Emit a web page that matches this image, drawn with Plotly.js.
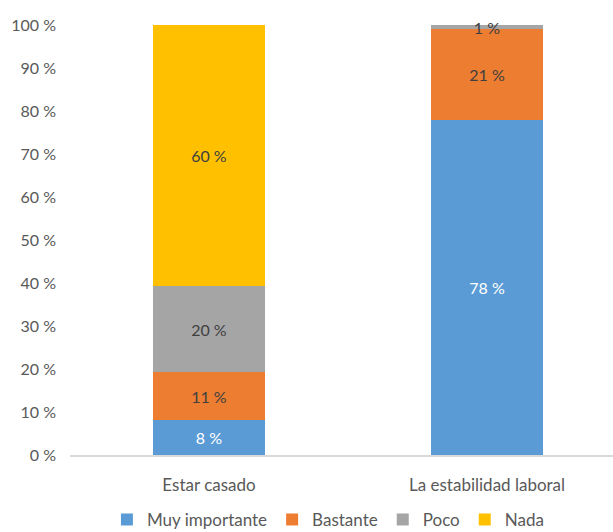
<!DOCTYPE html>
<html>
<head>
<meta charset="utf-8">
<script src="https://cdn.plot.ly/plotly-3.0.1.min.js"></script>
<style>html,body{margin:0;padding:0;background:#fff;}#chart{width:613px;height:532px;}</style>
</head>
<body>
<div id="chart"></div>
<script>
const categories = ['Estar casado', 'La estabilidad laboral'];
const seriesNames = ['Muy importante', 'Bastante', 'Poco', 'Nada'];
const muyImportante = [8, 78];
const bastante = [11, 21];
const poco = [20, 1];
const nada = [60, 0];
const yTicks = [0, 10, 20, 30, 40, 50, 60, 70, 80, 90, 100];

const colors = ['#5B9BD5', '#ED7D31', '#A5A5A5', '#FFC000'];
const textColors = ['#FFFFFF', '#404040', '#404040', '#404040'];
const allSeries = [muyImportante, bastante, poco, nada];
const fontFam = 'Lato, "Open Sans", sans-serif';

const traces = allSeries.map((vals, i) => ({
  type: 'bar',
  name: seriesNames[i],
  x: categories,
  y: vals,
  marker: {color: colors[i], line: {width: 0}},
  text: vals.map(v => v > 0 ? v + ' %' : ''),
  textposition: 'inside',
  insidetextanchor: 'middle',
  textangle: 0,
  cliponaxis: false,
  textfont: {family: fontFam, size: 16, color: textColors[i]},
  hoverinfo: 'skip',
  width: 0.403
}));

const layout = {
  width: 613, height: 532,
  margin: {l: 70, r: 0, t: 25, b: 77, autoexpand: false},
  barmode: 'stack',
  barnorm: 'percent',
  paper_bgcolor: '#fff', plot_bgcolor: '#fff',
  font: {family: fontFam, size: 16, color: '#595959'},
  uniformtext: {minsize: 16, mode: 'show'},
  xaxis: {
    range: [-0.5, 1.453],
    showgrid: false, zeroline: false,
    showline: true, linecolor: '#D9D9D9', linewidth: 1.5,
    ticks: '', ticklabelstandoff: 14,
    tickfont: {size: 17, color: '#595959'}
  },
  yaxis: {
    range: [0, 100],
    tickvals: yTicks,
    ticktext: yTicks.map(t => t + ' %'),
    showgrid: false, zeroline: false, showline: false,
    ticks: '', ticklabelstandoff: 13,
    tickfont: {size: 16, color: '#595959'}
  },
  legend: {
    orientation: 'h', x: 0.475, xanchor: 'center', y: -0.151, yanchor: 'middle',
    font: {size: 17, color: '#595959'}, itemwidth: 30, traceorder: 'normal'
  },
  showlegend: true
};

Plotly.newPlot('chart', traces, layout, {displayModeBar: false, staticPlot: true});
</script>
</body>
</html>
